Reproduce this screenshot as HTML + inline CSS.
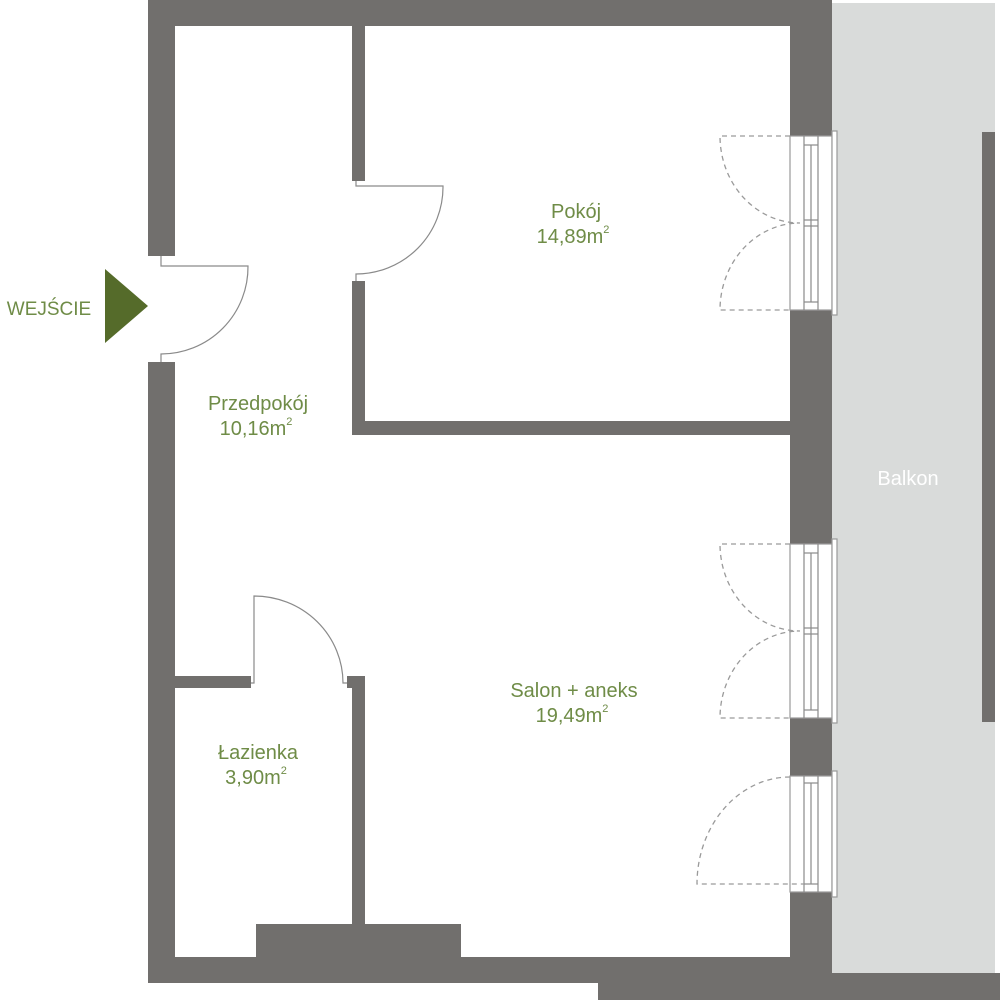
<!DOCTYPE html>
<html><head><meta charset="utf-8"><style>
html,body{margin:0;padding:0;background:#fff;}
svg{display:block;}
.t{font-family:"Liberation Sans",sans-serif;font-size:20px;fill:#6f8c47;text-anchor:middle;}
.s{font-size:11px;text-anchor:start;}
.d{fill:none;stroke:#9a9a9a;stroke-width:1.3;stroke-dasharray:5,4;}
.l{fill:none;stroke:#8a8a8a;stroke-width:1.2;}
.w{fill:#fff;stroke:#9a9a9a;stroke-width:1.2;}
</style></head><body>
<svg width="1000" height="1000" viewBox="0 0 1000 1000" xmlns="http://www.w3.org/2000/svg">
<!-- balcony -->
<rect x="832" y="3" width="163" height="970" fill="#d9dbda"/>
<rect x="982" y="132" width="13" height="590" fill="#716f6d"/>
<g fill="#716f6d">
<!-- top wall -->
<rect x="148" y="0" width="684" height="26"/>
<!-- left wall -->
<rect x="148" y="0" width="27" height="256"/>
<rect x="148" y="362" width="27" height="621"/>
<!-- bottom -->
<rect x="148" y="957" width="684" height="26"/>
<rect x="598" y="973" width="402" height="27"/>
<rect x="256" y="924" width="205" height="40"/>
<!-- right wall -->
<rect x="790" y="0" width="42" height="136"/>
<rect x="790" y="310" width="42" height="234"/>
<rect x="790" y="718" width="42" height="58"/>
<rect x="790" y="892" width="42" height="81"/>
<!-- internal walls -->
<rect x="352" y="26" width="13" height="155"/>
<rect x="352" y="281" width="13" height="154"/>
<rect x="352" y="421" width="438" height="14"/>
<rect x="175" y="676" width="76" height="12"/>
<rect x="347" y="676" width="18" height="12"/>
<rect x="352" y="676" width="13" height="250"/>
</g>
<!-- entry door -->
<path class="l" d="M161 256 V266 H248 A87 87 0 0 1 161 354 V362"/>
<!-- pokoj door -->
<path class="l" d="M356 181 V186 H443 A87 87 0 0 1 356 274 V281"/>
<!-- bathroom door -->
<path class="l" d="M251 683 H254 V596 A89 87 0 0 1 343 683 H347"/>
<!-- windows -->
<g>
<rect class="w" x="790" y="136" width="42" height="174"/>
<rect class="w" x="832" y="131" width="5" height="184"/>
<line class="l" x1="804" y1="136" x2="804" y2="310"/><line class="l" x1="818" y1="136" x2="818" y2="310"/>
<line class="l" x1="811" y1="145" x2="811" y2="302"/>
<line class="l" x1="804" y1="145" x2="818" y2="145"/><line class="l" x1="804" y1="302" x2="818" y2="302"/>
<line class="l" x1="804" y1="220" x2="818" y2="220"/><line class="l" x1="804" y1="226" x2="818" y2="226"/>
<path class="d" d="M790 136 H720 A80 87 0 0 0 800 223 A80 87 0 0 0 720 310 H790"/>

<rect class="w" x="790" y="544" width="42" height="174"/>
<rect class="w" x="832" y="539" width="5" height="184"/>
<line class="l" x1="804" y1="544" x2="804" y2="718"/><line class="l" x1="818" y1="544" x2="818" y2="718"/>
<line class="l" x1="811" y1="553" x2="811" y2="710"/>
<line class="l" x1="804" y1="553" x2="818" y2="553"/><line class="l" x1="804" y1="710" x2="818" y2="710"/>
<line class="l" x1="804" y1="628" x2="818" y2="628"/><line class="l" x1="804" y1="634" x2="818" y2="634"/>
<path class="d" d="M790 544 H720 A80 87 0 0 0 800 631 A80 87 0 0 0 720 718 H790"/>

<rect class="w" x="790" y="776" width="42" height="116"/>
<rect class="w" x="832" y="771" width="5" height="126"/>
<line class="l" x1="804" y1="776" x2="804" y2="892"/><line class="l" x1="818" y1="776" x2="818" y2="892"/>
<line class="l" x1="811" y1="783" x2="811" y2="884"/>
<line class="l" x1="804" y1="783" x2="818" y2="783"/><line class="l" x1="804" y1="884" x2="818" y2="884"/>
<path class="d" d="M790 777 A93 107 0 0 0 697 884 H804"/>
</g>
<!-- arrow -->
<polygon points="105,269 148,306 105,343" fill="#556b2a"/>
<text x="49" y="315" class="t" style="font-size:19px">WEJŚCIE</text>
<!-- labels -->
<text x="576" y="218" class="t">Pokój</text>
<text x="573" y="243" class="t">14,89m<tspan class="s" dy="-10">2</tspan></text>
<text x="258" y="410" class="t">Przedpokój</text>
<text x="256" y="435" class="t">10,16m<tspan class="s" dy="-10">2</tspan></text>
<text x="574" y="697" class="t">Salon + aneks</text>
<text x="572" y="722" class="t">19,49m<tspan class="s" dy="-10">2</tspan></text>
<text x="258" y="759" class="t">Łazienka</text>
<text x="256" y="784" class="t">3,90m<tspan class="s" dy="-10">2</tspan></text>
<text x="908" y="485" class="t" style="fill:#fff">Balkon</text>
</svg>
</body></html>
